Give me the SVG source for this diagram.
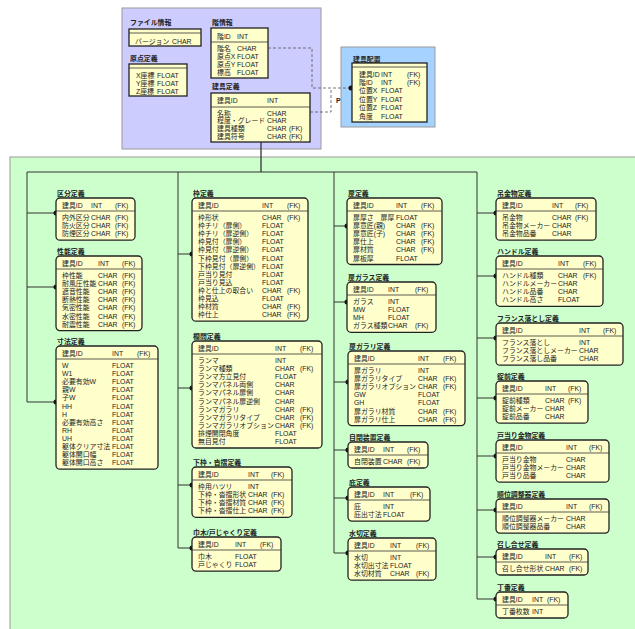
<svg xmlns="http://www.w3.org/2000/svg" width="635" height="629" viewBox="0 0 635 629">
<style>
.t{font-family:"Liberation Sans","Noto Sans CJK JP",sans-serif;font-size:6.9px;fill:#222}
.h{font-weight:bold}
.b{fill:#ffffcc;stroke:#222;stroke-width:1.3}
.s{stroke:#333;stroke-width:0.8}
.c{stroke:#333;stroke-width:1;fill:none}
.dsh{stroke:#555;stroke-width:0.8;fill:none;stroke-dasharray:3 2}
.d{fill:#111}
</style>
<rect x="10" y="157" width="630" height="480" fill="#ccffcc" stroke="#9a9a9a"/>
<rect x="122" y="8" width="199" height="141" fill="#ccccff" stroke="#9a9a9a"/>
<rect x="341" y="47" width="94" height="80" fill="#a6d2ff" stroke="#9a9a9a"/>

<g id="connectors">
<path class="dsh" d="M268,48 H312 V88 H351"/>
<path class="dsh" d="M310,112 H331 V88"/>
<text class="t h" x="336" y="102.5">P</text>
<circle class="d" cx="351" cy="88" r="2.5"/>
<path class="c" style="stroke-width:1.3" d="M261,142 V172"/>
<path class="c" d="M27,172 H477"/>
<path class="c" d="M27,172 V402 M27,213 H56 M27,287 H56 M27,402 H56"/>
<path class="c" d="M178,172 V548 M178,254 H192 M178,388 H192 M178,485 H192 M178,548 H192"/>
<path class="c" d="M334,172 V553 M334,226 H347 M334,302 H347 M334,382 H348 M334,450 H348 M334,498 H348 M334,553 H348"/>
<path class="c" d="M477,172 V599 M477,213 H496 M477,276 H496 M477,338 H496 M477,398 H496 M477,456 H496 M477,510 H496 M477,557 H496 M477,599 H496"/>
<g class="d">
<circle cx="56" cy="213" r="2.5"/><circle cx="56" cy="287" r="2.5"/><circle cx="56" cy="402" r="2.5"/>
<circle cx="192" cy="254" r="2.5"/><circle cx="192" cy="388" r="2.5"/><circle cx="192" cy="485" r="2.5"/><circle cx="192" cy="548" r="2.5"/>
<circle cx="347" cy="226" r="2.5"/><circle cx="347" cy="302" r="2.5"/><circle cx="348" cy="382" r="2.5"/><circle cx="348" cy="450" r="2.5"/><circle cx="348" cy="498" r="2.5"/><circle cx="348" cy="553" r="2.5"/>
<circle cx="496" cy="213" r="2.5"/><circle cx="496" cy="276" r="2.5"/><circle cx="496" cy="338" r="2.5"/><circle cx="496" cy="398" r="2.5"/><circle cx="496" cy="456" r="2.5"/><circle cx="496" cy="510" r="2.5"/><circle cx="496" cy="557" r="2.5"/><circle cx="496" cy="599" r="2.5"/>
</g>
</g>

<g id="file-info" transform="translate(129,29)">
<text class="t h" x="1" y="-4">ファイル情報</text>
<rect class="b" width="72" height="17"/><line class="s" x1="0" y1="4" x2="72" y2="4"/>
<text class="t" y="14.5"><tspan x="6">バージョン</tspan><tspan x="43">CHAR</tspan></text>
</g>

<g id="origin" transform="translate(129,64)">
<text class="t h" x="1" y="-3.5">原点定義</text>
<rect class="b" width="58" height="32"/><line class="s" x1="0" y1="4" x2="58" y2="4"/>
<text class="t" y="14.2"><tspan x="7">X座標</tspan><tspan x="28">FLOAT</tspan></text>
<text class="t" y="22"><tspan x="7">Y座標</tspan><tspan x="28">FLOAT</tspan></text>
<text class="t" y="29.8"><tspan x="7">Z座標</tspan><tspan x="28">FLOAT</tspan></text>
</g>

<g id="floor" transform="translate(211,28)">
<text class="t h" x="1" y="-3.5">階情報</text>
<rect class="b" width="57" height="50"/><line class="s" x1="0" y1="14" x2="57" y2="14"/>
<text class="t" y="10.5"><tspan x="6">階ID</tspan><tspan x="26">INT</tspan></text>
<text class="t" y="22.5"><tspan x="6">階名</tspan><tspan x="26">CHAR</tspan></text>
<text class="t" y="30.5"><tspan x="6">原点X</tspan><tspan x="26">FLOAT</tspan></text>
<text class="t" y="38.5"><tspan x="6">原点Y</tspan><tspan x="26">FLOAT</tspan></text>
<text class="t" y="46.5"><tspan x="6">標高</tspan><tspan x="26">FLOAT</tspan></text>
</g>

<g id="fitting" transform="translate(211,93)">
<text class="t h" x="1" y="-4">建具定義</text>
<rect class="b" width="99" height="49"/><line class="s" x1="0" y1="14" x2="99" y2="14"/>
<text class="t" y="9.5"><tspan x="6">建具ID</tspan><tspan x="56">INT</tspan></text>
<text class="t" y="22.5"><tspan x="6">名称</tspan><tspan x="56">CHAR</tspan></text>
<text class="t" y="30.3"><tspan x="6">程度・グレード</tspan><tspan x="56">CHAR</tspan></text>
<text class="t" y="38.1"><tspan x="6">建具種類</tspan><tspan x="56">CHAR</tspan><tspan x="78">(FK)</tspan></text>
<text class="t" y="45.9"><tspan x="6">建具符号</tspan><tspan x="56">CHAR</tspan><tspan x="78">(FK)</tspan></text>
</g>

<g id="placement" transform="translate(352,63)">
<text class="t h" x="1" y="-1.5">建具配置</text>
<rect class="b" width="75" height="59"/><line class="s" x1="0" y1="4" x2="75" y2="4"/>
<text class="t" y="13.5"><tspan x="7">建具ID</tspan><tspan x="29">INT</tspan><tspan x="55">(FK)</tspan></text>
<text class="t" y="21.9"><tspan x="7">階ID</tspan><tspan x="29">INT</tspan><tspan x="55">(FK)</tspan></text>
<text class="t" y="30.3"><tspan x="7">位置X</tspan><tspan x="29">FLOAT</tspan></text>
<text class="t" y="38.7"><tspan x="7">位置Y</tspan><tspan x="29">FLOAT</tspan></text>
<text class="t" y="47.1"><tspan x="7">位置Z</tspan><tspan x="29">FLOAT</tspan></text>
<text class="t" y="55.5"><tspan x="7">角度</tspan><tspan x="29">FLOAT</tspan></text>
</g>

<g id="kubun" transform="translate(56,198)">
<text class="t h" x="1" y="-2.5">区分定義</text>
<rect class="b" width="79" height="42.2" rx="4"/><line class="s" x1="0" y1="13" x2="79" y2="13"/>
<text class="t" y="10"><tspan x="6">建具ID</tspan><tspan x="35">INT</tspan><tspan x="59">(FK)</tspan></text>
<text class="t" y="22"><tspan x="6">内外区分</tspan><tspan x="35">CHAR</tspan><tspan x="59">(FK)</tspan></text>
<text class="t" y="30.1"><tspan x="6">防火区分</tspan><tspan x="35">CHAR</tspan><tspan x="59">(FK)</tspan></text>
<text class="t" y="38.2"><tspan x="6">防煙区分</tspan><tspan x="35">CHAR</tspan><tspan x="59">(FK)</tspan></text>
</g>

<g id="seino" transform="translate(56,256)">
<text class="t h" x="1" y="-2.5">性能定義</text>
<rect class="b" width="86" height="74.6" rx="4"/><line class="s" x1="0" y1="13" x2="86" y2="13"/>
<text class="t" y="10"><tspan x="6">建具ID</tspan><tspan x="42">INT</tspan><tspan x="66">(FK)</tspan></text>
<text class="t" y="22"><tspan x="6">枠性能</tspan><tspan x="42">CHAR</tspan><tspan x="66">(FK)</tspan></text>
<text class="t" y="30.1"><tspan x="6">耐風圧性能</tspan><tspan x="42">CHAR</tspan><tspan x="66">(FK)</tspan></text>
<text class="t" y="38.2"><tspan x="6">遮音性能</tspan><tspan x="42">CHAR</tspan><tspan x="66">(FK)</tspan></text>
<text class="t" y="46.3"><tspan x="6">断熱性能</tspan><tspan x="42">CHAR</tspan><tspan x="66">(FK)</tspan></text>
<text class="t" y="54.4"><tspan x="6">気密性能</tspan><tspan x="42">CHAR</tspan><tspan x="66">(FK)</tspan></text>
<text class="t" y="62.5"><tspan x="6">水密性能</tspan><tspan x="42">CHAR</tspan><tspan x="66">(FK)</tspan></text>
<text class="t" y="70.6"><tspan x="6">耐震性能</tspan><tspan x="42">CHAR</tspan><tspan x="66">(FK)</tspan></text>
</g>

<g id="sunpo" transform="translate(56,346)">
<text class="t h" x="1" y="-2.5">寸法定義</text>
<rect class="b" width="102" height="123.2" rx="4"/><line class="s" x1="0" y1="13" x2="102" y2="13"/>
<text class="t" y="10"><tspan x="6">建具ID</tspan><tspan x="56">INT</tspan><tspan x="81">(FK)</tspan></text>
<text class="t" y="22"><tspan x="6">W</tspan><tspan x="56">FLOAT</tspan></text>
<text class="t" y="30.1"><tspan x="6">W1</tspan><tspan x="56">FLOAT</tspan></text>
<text class="t" y="38.2"><tspan x="6">必要有効W</tspan><tspan x="56">FLOAT</tspan></text>
<text class="t" y="46.3"><tspan x="6">親W</tspan><tspan x="56">FLOAT</tspan></text>
<text class="t" y="54.4"><tspan x="6">子W</tspan><tspan x="56">FLOAT</tspan></text>
<text class="t" y="62.5"><tspan x="6">HH</tspan><tspan x="56">FLOAT</tspan></text>
<text class="t" y="70.6"><tspan x="6">H</tspan><tspan x="56">FLOAT</tspan></text>
<text class="t" y="78.7"><tspan x="6">必要有効高さ</tspan><tspan x="56">FLOAT</tspan></text>
<text class="t" y="86.8"><tspan x="6">RH</tspan><tspan x="56">FLOAT</tspan></text>
<text class="t" y="94.9"><tspan x="6">UH</tspan><tspan x="56">FLOAT</tspan></text>
<text class="t" y="103"><tspan x="6">躯体クリア寸法</tspan><tspan x="56">FLOAT</tspan></text>
<text class="t" y="111.1"><tspan x="6">躯体開口幅</tspan><tspan x="56">FLOAT</tspan></text>
<text class="t" y="119.2"><tspan x="6">躯体開口高さ</tspan><tspan x="56">FLOAT</tspan></text>
</g>

<g id="waku" transform="translate(192,198)">
<text class="t h" x="1" y="-2.5">枠定義</text>
<rect class="b" width="116" height="123.2" rx="4"/><line class="s" x1="0" y1="13" x2="116" y2="13"/>
<text class="t" y="10"><tspan x="6">建具ID</tspan><tspan x="70">INT</tspan><tspan x="95">(FK)</tspan></text>
<text class="t" y="22"><tspan x="6">枠形状</tspan><tspan x="70">CHAR</tspan><tspan x="95">(FK)</tspan></text>
<text class="t" y="30.1"><tspan x="6">枠チリ（扉側）</tspan><tspan x="70">FLOAT</tspan></text>
<text class="t" y="38.2"><tspan x="6">枠チリ（扉逆側）</tspan><tspan x="70">FLOAT</tspan></text>
<text class="t" y="46.3"><tspan x="6">枠見付（扉側）</tspan><tspan x="70">FLOAT</tspan></text>
<text class="t" y="54.4"><tspan x="6">枠見付（扉逆側）</tspan><tspan x="70">FLOAT</tspan></text>
<text class="t" y="62.5"><tspan x="6">下枠見付（扉側）</tspan><tspan x="70">FLOAT</tspan></text>
<text class="t" y="70.6"><tspan x="6">下枠見付（扉逆側）</tspan><tspan x="70">FLOAT</tspan></text>
<text class="t" y="78.7"><tspan x="6">戸当り見付</tspan><tspan x="70">FLOAT</tspan></text>
<text class="t" y="86.8"><tspan x="6">戸当り見込</tspan><tspan x="70">FLOAT</tspan></text>
<text class="t" y="94.9"><tspan x="6">枠と仕上の取合い</tspan><tspan x="70">CHAR</tspan><tspan x="95">(FK)</tspan></text>
<text class="t" y="103"><tspan x="6">枠見込</tspan><tspan x="70">FLOAT</tspan></text>
<text class="t" y="111.1"><tspan x="6">枠材質</tspan><tspan x="70">CHAR</tspan><tspan x="95">(FK)</tspan></text>
<text class="t" y="119.2"><tspan x="6">枠仕上</tspan><tspan x="70">CHAR</tspan><tspan x="95">(FK)</tspan></text>
</g>

<g id="ranma" transform="translate(192,341)">
<text class="t h" x="1" y="-2.5">欄間定義</text>
<rect class="b" width="130" height="107" rx="4"/><line class="s" x1="0" y1="13" x2="130" y2="13"/>
<text class="t" y="10"><tspan x="6">建具ID</tspan><tspan x="83">INT</tspan><tspan x="108">(FK)</tspan></text>
<text class="t" y="22"><tspan x="6">ランマ</tspan><tspan x="83">INT</tspan></text>
<text class="t" y="30.1"><tspan x="6">ランマ種類</tspan><tspan x="83">CHAR</tspan><tspan x="108">(FK)</tspan></text>
<text class="t" y="38.2"><tspan x="6">ランマ方立見付</tspan><tspan x="83">FLOAT</tspan></text>
<text class="t" y="46.3"><tspan x="6">ランマパネル両側</tspan><tspan x="83">CHAR</tspan></text>
<text class="t" y="54.4"><tspan x="6">ランマパネル扉側</tspan><tspan x="83">CHAR</tspan></text>
<text class="t" y="62.5"><tspan x="6">ランマパネル扉逆側</tspan><tspan x="83">CHAR</tspan></text>
<text class="t" y="70.6"><tspan x="6">ランマガラリ</tspan><tspan x="83">CHAR</tspan><tspan x="108">(FK)</tspan></text>
<text class="t" y="78.7"><tspan x="6">ランマガラリタイプ</tspan><tspan x="83">CHAR</tspan><tspan x="108">(FK)</tspan></text>
<text class="t" y="86.8"><tspan x="6">ランマガラリオプション</tspan><tspan x="83">CHAR</tspan><tspan x="108">(FK)</tspan></text>
<text class="t" y="94.9"><tspan x="6">排煙開閉角度</tspan><tspan x="83">FLOAT</tspan></text>
<text class="t" y="103"><tspan x="6">無目見付</tspan><tspan x="83">FLOAT</tspan></text>
</g>

<g id="shitawaku" transform="translate(192,467)">
<text class="t h" x="1" y="-2.5">下枠・沓摺定義</text>
<rect class="b" width="100" height="50.3" rx="4"/><line class="s" x1="0" y1="13" x2="100" y2="13"/>
<text class="t" y="10"><tspan x="6">建具ID</tspan><tspan x="56">INT</tspan><tspan x="79">(FK)</tspan></text>
<text class="t" y="22"><tspan x="6">枠用ハツリ</tspan><tspan x="56">INT</tspan></text>
<text class="t" y="30.1"><tspan x="6">下枠・沓摺形状</tspan><tspan x="56">CHAR</tspan><tspan x="79">(FK)</tspan></text>
<text class="t" y="38.2"><tspan x="6">下枠・沓摺材質</tspan><tspan x="56">CHAR</tspan><tspan x="79">(FK)</tspan></text>
<text class="t" y="46.3"><tspan x="6">下枠・沓摺仕上</tspan><tspan x="56">CHAR</tspan><tspan x="79">(FK)</tspan></text>
</g>

<g id="habaki" transform="translate(192,537)">
<text class="t h" x="1" y="-2.5">巾木/戸じゃくり定義</text>
<rect class="b" width="89" height="34.1" rx="4"/><line class="s" x1="0" y1="13" x2="89" y2="13"/>
<text class="t" y="10"><tspan x="6">建具ID</tspan><tspan x="43">INT</tspan><tspan x="68">(FK)</tspan></text>
<text class="t" y="22"><tspan x="6">巾木</tspan><tspan x="43">FLOAT</tspan></text>
<text class="t" y="30.1"><tspan x="6">戸じゃくり</tspan><tspan x="43">FLOAT</tspan></text>
</g>

<g id="tobira" transform="translate(347,198)">
<text class="t h" x="1" y="-2.5">扉定義</text>
<rect class="b" width="95" height="66.5" rx="4"/><line class="s" x1="0" y1="13" x2="95" y2="13"/>
<text class="t" y="10"><tspan x="6">建具ID</tspan><tspan x="49">INT</tspan><tspan x="74">(FK)</tspan></text>
<text class="t" y="22"><tspan x="6">扉厚さ　扉厚</tspan><tspan x="49">FLOAT</tspan></text>
<text class="t" y="30.1"><tspan x="6">扉意匠(親)</tspan><tspan x="49">CHAR</tspan><tspan x="74">(FK)</tspan></text>
<text class="t" y="38.2"><tspan x="6">扉意匠(子)</tspan><tspan x="49">CHAR</tspan><tspan x="74">(FK)</tspan></text>
<text class="t" y="46.3"><tspan x="6">扉仕上</tspan><tspan x="49">CHAR</tspan><tspan x="74">(FK)</tspan></text>
<text class="t" y="54.4"><tspan x="6">扉材質</tspan><tspan x="49">CHAR</tspan><tspan x="74">(FK)</tspan></text>
<text class="t" y="62.5"><tspan x="6">扉板厚</tspan><tspan x="49">FLOAT</tspan></text>
</g>

<g id="tobira-glass" transform="translate(347,282)">
<text class="t h" x="1" y="-2.5">扉ガラス定義</text>
<rect class="b" width="89" height="50.3" rx="4"/><line class="s" x1="0" y1="13" x2="89" y2="13"/>
<text class="t" y="10"><tspan x="6">建具ID</tspan><tspan x="41">INT</tspan><tspan x="68">(FK)</tspan></text>
<text class="t" y="22"><tspan x="6">ガラス</tspan><tspan x="41">INT</tspan></text>
<text class="t" y="30.1"><tspan x="6">MW</tspan><tspan x="41">FLOAT</tspan></text>
<text class="t" y="38.2"><tspan x="6">MH</tspan><tspan x="41">FLOAT</tspan></text>
<text class="t" y="46.3"><tspan x="6">ガラス種類</tspan><tspan x="41">CHAR</tspan><tspan x="68">(FK)</tspan></text>
</g>

<g id="tobira-gallery" transform="translate(348,351)">
<text class="t h" x="1" y="-2.5">扉ガラリ定義</text>
<rect class="b" width="117" height="74.6" rx="4"/><line class="s" x1="0" y1="13" x2="117" y2="13"/>
<text class="t" y="10"><tspan x="6">建具ID</tspan><tspan x="70">INT</tspan><tspan x="95">(FK)</tspan></text>
<text class="t" y="22"><tspan x="6">扉ガラリ</tspan><tspan x="70">INT</tspan></text>
<text class="t" y="30.1"><tspan x="6">扉ガラリタイプ</tspan><tspan x="70">CHAR</tspan><tspan x="95">(FK)</tspan></text>
<text class="t" y="38.2"><tspan x="6">扉ガラリオプション</tspan><tspan x="70">CHAR</tspan><tspan x="95">(FK)</tspan></text>
<text class="t" y="46.3"><tspan x="6">GW</tspan><tspan x="70">FLOAT</tspan></text>
<text class="t" y="54.4"><tspan x="6">GH</tspan><tspan x="70">FLOAT</tspan></text>
<text class="t" y="62.5"><tspan x="6">扉ガラリ材質</tspan><tspan x="70">CHAR</tspan><tspan x="95">(FK)</tspan></text>
<text class="t" y="70.6"><tspan x="6">扉ガラリ仕上</tspan><tspan x="70">CHAR</tspan><tspan x="95">(FK)</tspan></text>
</g>

<g id="jihei" transform="translate(348,442)">
<text class="t h" x="1" y="-2.5">自閉装置定義</text>
<rect class="b" width="80" height="26" rx="4"/><line class="s" x1="0" y1="13" x2="80" y2="13"/>
<text class="t" y="10"><tspan x="6">建具ID</tspan><tspan x="35">INT</tspan><tspan x="59">(FK)</tspan></text>
<text class="t" y="22"><tspan x="6">自閉装置</tspan><tspan x="35">CHAR</tspan><tspan x="59">(FK)</tspan></text>
</g>

<g id="hisashi" transform="translate(348,487)">
<text class="t h" x="1" y="-2.5">庇定義</text>
<rect class="b" width="82" height="34.1" rx="4"/><line class="s" x1="0" y1="13" x2="82" y2="13"/>
<text class="t" y="10"><tspan x="6">建具ID</tspan><tspan x="35">INT</tspan><tspan x="62">(FK)</tspan></text>
<text class="t" y="22"><tspan x="6">庇</tspan><tspan x="35">INT</tspan></text>
<text class="t" y="30.1"><tspan x="6">庇出寸法</tspan><tspan x="35">FLOAT</tspan></text>
</g>

<g id="mizukiri" transform="translate(348,538)">
<text class="t h" x="1" y="-2.5">水切定義</text>
<rect class="b" width="88" height="42.2" rx="4"/><line class="s" x1="0" y1="13" x2="88" y2="13"/>
<text class="t" y="10"><tspan x="6">建具ID</tspan><tspan x="42">INT</tspan><tspan x="68">(FK)</tspan></text>
<text class="t" y="22"><tspan x="6">水切</tspan><tspan x="42">INT</tspan></text>
<text class="t" y="30.1"><tspan x="6">水切出寸法</tspan><tspan x="42">FLOAT</tspan></text>
<text class="t" y="38.2"><tspan x="6">水切材質</tspan><tspan x="42">CHAR</tspan><tspan x="68">(FK)</tspan></text>
</g>

<g id="tsurikanamono" transform="translate(496,198)">
<text class="t h" x="1" y="-2.5">吊金物定義</text>
<rect class="b" width="100" height="42.2" rx="4"/><line class="s" x1="0" y1="13" x2="100" y2="13"/>
<text class="t" y="10"><tspan x="6">建具ID</tspan><tspan x="56">INT</tspan><tspan x="79">(FK)</tspan></text>
<text class="t" y="22"><tspan x="6">吊金物</tspan><tspan x="56">CHAR</tspan><tspan x="79">(FK)</tspan></text>
<text class="t" y="30.1"><tspan x="6">吊金物メーカー</tspan><tspan x="56">CHAR</tspan></text>
<text class="t" y="38.2"><tspan x="6">吊金物品番</tspan><tspan x="56">CHAR</tspan></text>
</g>

<g id="handle" transform="translate(496,256)">
<text class="t h" x="1" y="-2.5">ハンドル定義</text>
<rect class="b" width="107" height="50.3" rx="4"/><line class="s" x1="0" y1="13" x2="107" y2="13"/>
<text class="t" y="10"><tspan x="6">建具ID</tspan><tspan x="62">INT</tspan><tspan x="87">(FK)</tspan></text>
<text class="t" y="22"><tspan x="6">ハンドル種類</tspan><tspan x="62">CHAR</tspan><tspan x="87">(FK)</tspan></text>
<text class="t" y="30.1"><tspan x="6">ハンドルメーカー</tspan><tspan x="62">CHAR</tspan></text>
<text class="t" y="38.2"><tspan x="6">ハンドル品番</tspan><tspan x="62">CHAR</tspan></text>
<text class="t" y="46.3"><tspan x="6">ハンドル高さ</tspan><tspan x="62">FLOAT</tspan></text>
</g>

<g id="france" transform="translate(496,323)">
<text class="t h" x="1" y="-2.5">フランス落とし定義</text>
<rect class="b" width="127" height="42.2" rx="4"/><line class="s" x1="0" y1="13" x2="127" y2="13"/>
<text class="t" y="10"><tspan x="6">建具ID</tspan><tspan x="83">INT</tspan><tspan x="107">(FK)</tspan></text>
<text class="t" y="22"><tspan x="6">フランス落とし</tspan><tspan x="83">INT</tspan></text>
<text class="t" y="30.1"><tspan x="6">フランス落としメーカー</tspan><tspan x="83">CHAR</tspan></text>
<text class="t" y="38.2"><tspan x="6">フランス落し品番</tspan><tspan x="83">CHAR</tspan></text>
</g>

<g id="jomae" transform="translate(496,381)">
<text class="t h" x="1" y="-2.5">錠前定義</text>
<rect class="b" width="92" height="42.2" rx="4"/><line class="s" x1="0" y1="13" x2="92" y2="13"/>
<text class="t" y="10"><tspan x="6">建具ID</tspan><tspan x="49">INT</tspan><tspan x="72">(FK)</tspan></text>
<text class="t" y="22"><tspan x="6">錠前種類</tspan><tspan x="49">CHAR</tspan><tspan x="72">(FK)</tspan></text>
<text class="t" y="30.1"><tspan x="6">錠前メーカー</tspan><tspan x="49">CHAR</tspan></text>
<text class="t" y="38.2"><tspan x="6">錠前品番</tspan><tspan x="49">CHAR</tspan></text>
</g>

<g id="toatari" transform="translate(496,440)">
<text class="t h" x="1" y="-2.5">戸当り金物定義</text>
<rect class="b" width="113" height="42.2" rx="4"/><line class="s" x1="0" y1="13" x2="113" y2="13"/>
<text class="t" y="10"><tspan x="6">建具ID</tspan><tspan x="70">INT</tspan><tspan x="93">(FK)</tspan></text>
<text class="t" y="22"><tspan x="6">戸当り金物</tspan><tspan x="70">CHAR</tspan></text>
<text class="t" y="30.1"><tspan x="6">戸当り金物メーカー</tspan><tspan x="70">CHAR</tspan></text>
<text class="t" y="38.2"><tspan x="6">戸当り品番</tspan><tspan x="70">CHAR</tspan></text>
</g>

<g id="juni" transform="translate(496,499)">
<text class="t h" x="1" y="-2.5">順位調整器定義</text>
<rect class="b" width="113" height="34.1" rx="4"/><line class="s" x1="0" y1="13" x2="113" y2="13"/>
<text class="t" y="10"><tspan x="6">建具ID</tspan><tspan x="70">INT</tspan><tspan x="93">(FK)</tspan></text>
<text class="t" y="22"><tspan x="6">順位調整器メーカー</tspan><tspan x="70">CHAR</tspan></text>
<text class="t" y="30.1"><tspan x="6">順位調整器品番</tspan><tspan x="70">CHAR</tspan></text>
</g>

<g id="meshiawase" transform="translate(496,549)">
<text class="t h" x="1" y="-2.5">召し合せ定義</text>
<rect class="b" width="92" height="26" rx="4"/><line class="s" x1="0" y1="13" x2="92" y2="13"/>
<text class="t" y="10"><tspan x="6">建具ID</tspan><tspan x="49">INT</tspan><tspan x="73">(FK)</tspan></text>
<text class="t" y="22"><tspan x="6">召し合せ形状</tspan><tspan x="49">CHAR</tspan><tspan x="73">(FK)</tspan></text>
</g>

<g id="chouban" transform="translate(496,592)">
<text class="t h" x="1" y="-2.5">丁番定義</text>
<rect class="b" width="72" height="26" rx="4"/><line class="s" x1="0" y1="13" x2="72" y2="13"/>
<text class="t" y="10"><tspan x="6">建具ID</tspan><tspan x="36">INT</tspan><tspan x="51">(FK)</tspan></text>
<text class="t" y="22"><tspan x="6">丁番枚数</tspan><tspan x="36">INT</tspan></text>
</g>
</svg>
